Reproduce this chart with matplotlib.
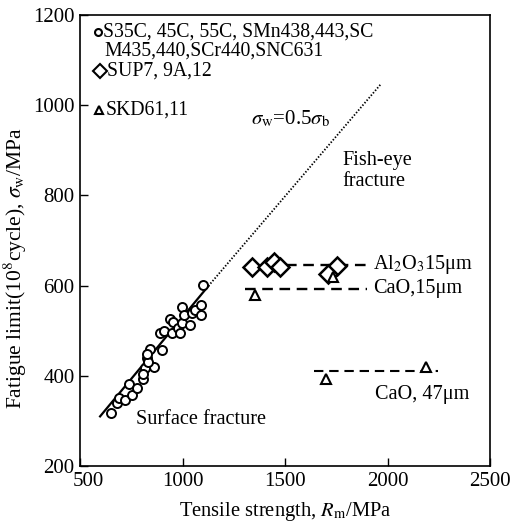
import matplotlib
matplotlib.use("Agg")
import matplotlib.pyplot as plt
import matplotlib.transforms as mtransforms

plt.rcParams['font.family'] = ['Liberation Serif', 'DejaVu Serif']
plt.rcParams['mathtext.fontset'] = 'stix'

# Data
circle_x = [650, 679, 692, 720, 740, 752, 776, 809, 817, 825, 841, 861, 833, 898,
            890, 910, 939, 947, 955, 980, 988, 996, 999, 1009, 1037, 1048, 1061,
            1090, 1090, 1101, 825, 805]
circle_y = [317, 339, 350, 346, 382, 357, 372, 394, 417, 439, 459, 420, 431, 457,
            494, 500, 527, 494, 520, 505, 494, 516, 552, 535, 513, 539, 547,
            557, 535, 601, 449, 405]
diamond_x = [1341, 1411, 1444, 1476, 1752, 1711]
diamond_y = [641, 641, 652, 641, 644, 625]
triangle_x = [1354, 1733, 1700, 2188]
triangle_y = [579, 618, 392, 420]

fit_solid_x = [598, 1126]
fit_solid_y = [310, 599]
fit_dot_x = [1126, 1968]
fit_dot_y = [599, 1047]

al2o3_x = [1505, 1900]; al2o3_y = [646, 646]
cao15_x = [1305, 1900]; cao15_y = [592, 592]
cao47_x = [1640, 2245]; cao47_y = [410, 410]

x_ticks = [500, 1000, 1500, 2000, 2500]
y_ticks = [200, 400, 600, 800, 1000, 1200]

fig = plt.figure(figsize=(5.11, 5.25), dpi=100)
ax = fig.add_axes([80/511, 1-466/525, 410/511, 451/525])

ax.plot(fit_solid_x, fit_solid_y, color='black', lw=1.6)
ax.plot(fit_dot_x, fit_dot_y, color='black', lw=1.3, linestyle=(0, (0.8, 1.0)))

dash = (0, (4.5, 2.8))
ax.plot(al2o3_x, al2o3_y, color='black', lw=1.7, linestyle=dash)
ax.plot(cao15_x, cao15_y, color='black', lw=1.7, linestyle=dash)
ax.plot(cao47_x, cao47_y, color='black', lw=1.5, linestyle=dash)

ax.plot(circle_x, circle_y, 'o', ms=6.5, mfc='white', mec='black', mew=1.4, linestyle='none')
ax.plot(diamond_x, diamond_y, 'D', ms=8.8, mfc='white', mec='black', mew=1.8, linestyle='none')
ax.plot(triangle_x, triangle_y, '^', ms=7, mfc='white', mec='black', mew=1.5, linestyle='none')

ax.set_xlim(500, 2500)
ax.set_ylim(200, 1200)
ax.set_xticks(x_ticks)
ax.set_yticks(y_ticks)
ax.tick_params(direction='in', length=6, width=1, labelsize=15, pad=4)
for s in ax.spines.values():
    s.set_linewidth(1.2)

# shift first x tick label to the right (as in the reference)
fig.canvas.draw()
lab0 = ax.get_xticklabels()[0]
lab0.set_transform(lab0.get_transform() + mtransforms.ScaledTranslation(8/100, 0, fig.dpi_scale_trans))

ax.set_xlabel(r'Tensile strength, $R_{\rm m}$/MPa', fontsize=14.8, labelpad=7)
ax.set_ylabel(r'Fatigue limit(10$^8$cycle), $\sigma_{\rm w}$/MPa', fontsize=15.5)
ax.yaxis.set_label_coords(-0.125, 0.44)

# legend (manual)
tr = ax.transAxes
def ax_xy(px, py):
    return ((px - 80) / 410, (466 - py) / 451)

for (px, py), mk, ms in [((98, 32), 'o', 5), ((100, 71), 'D', 7.5), ((99, 110), '^', 5.5)]:
    x, y = ax_xy(px, py)
    ax.plot([x], [y], mk, ms=ms, mfc='white', mec='black', mew=1.5, transform=tr, clip_on=False)
fs = 14.6
lfs = 14.2
x, y = ax_xy(103, 32)
ax.text(x, y, 'S35C, 45C, 55C, SMn438,443,SC', transform=tr, fontsize=lfs, va='center', ha='left')
x, y = ax_xy(104, 51.5)
ax.text(x, y, 'M435,440,SCr440,SNC631', transform=tr, fontsize=lfs, va='center', ha='left')
x, y = ax_xy(107, 71.5)
ax.text(x, y, 'SUP7, 9A,12', transform=tr, fontsize=lfs, va='center', ha='left')
x, y = ax_xy(106, 110)
ax.text(x, y, 'SKD61,11', transform=tr, fontsize=lfs, va='center', ha='left')

# annotations
x, y = ax_xy(251, 119)
ax.text(x, y, r'$\sigma_{\rm w}$=0.5$\sigma_{\rm b}$', transform=tr, fontsize=15, va='center', ha='left')
x, y = ax_xy(342, 171)
ax.text(x, y, 'Fish-eye\nfracture', transform=tr, fontsize=fs, va='center', ha='left', linespacing=1.1)
x, y = ax_xy(373, 265)
ax.text(x, y, r'Al$_2$O$_3$15μm', transform=tr, fontsize=fs, va='center', ha='left')
x, y = ax_xy(373, 289)
ax.text(x, y, 'CaO,15μm', transform=tr, fontsize=fs, va='center', ha='left')
x, y = ax_xy(375, 394)
ax.text(x, y, 'CaO, 47μm', transform=tr, fontsize=fs, va='center', ha='left')
x, y = ax_xy(136, 420)
ax.text(x, y, 'Surface fracture', transform=tr, fontsize=fs, va='center', ha='left')

fig.savefig('out.png', dpi=100)
